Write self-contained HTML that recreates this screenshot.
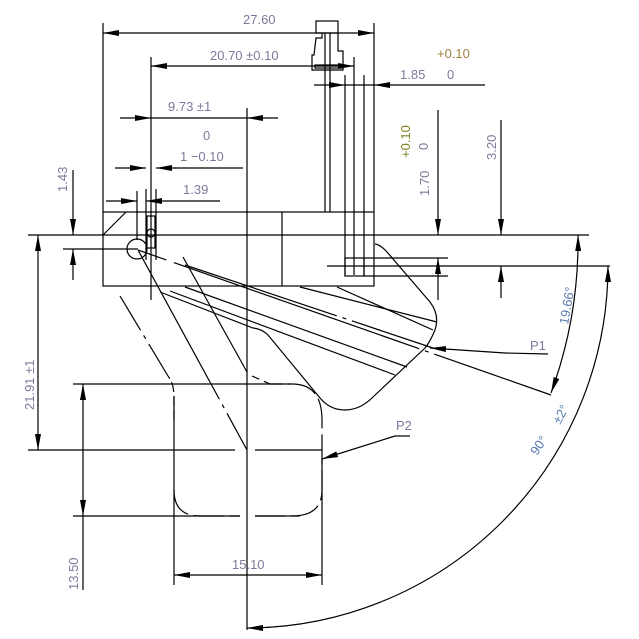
<!DOCTYPE html>
<html><head><meta charset="utf-8"><style>
html,body{margin:0;padding:0;background:#fff;}
svg{display:block;}
text{font-family:"Liberation Sans",sans-serif;font-size:13px;fill:#7a7a9c;}
</style></head><body>
<svg width="639" height="639" viewBox="0 0 639 639" xmlns="http://www.w3.org/2000/svg">
<defs>
<marker id="a" viewBox="0 0 16 6" refX="16" refY="3" markerWidth="16" markerHeight="6" markerUnits="userSpaceOnUse" orient="auto-start-reverse">
<path d="M0,0 L16,3 L0,6 Z" fill="#000"/></marker>
</defs>
<g stroke="#000" stroke-width="1.2" fill="none">
<rect x="103" y="212" width="271" height="74"/>
<line x1="282" y1="212" x2="282" y2="286"/>
<line x1="103" y1="235" x2="126" y2="212"/>
<line x1="28" y1="235" x2="589" y2="235"/>
<rect x="316" y="21" width="22" height="12"/>
<path d="M322,33 V38 H316 L314,55 H312 V70 H343 V51 H338 V33"/>
<rect x="315" y="65" width="28" height="3"/>
<line x1="325" y1="33" x2="325" y2="212"/><line x1="330" y1="33" x2="330" y2="212"/>
<line x1="345" y1="75" x2="345" y2="276"/><line x1="364" y1="75" x2="364" y2="276"/>
<line x1="354" y1="57" x2="354" y2="275"/>
<rect x="345" y="258" width="19" height="18"/>
<line x1="327" y1="266" x2="610" y2="266"/>
<line x1="364" y1="258" x2="448" y2="258"/><line x1="364" y1="276" x2="448" y2="276"/>
<rect x="147" y="216" width="8" height="32"/>
<circle cx="151" cy="233" r="4"/>
<line x1="146" y1="189" x2="146" y2="260"/><line x1="156" y1="189" x2="156" y2="260"/>
<circle cx="137" cy="249" r="10"/>
<line x1="63" y1="249" x2="138" y2="249"/>
<line x1="103" y1="23" x2="103" y2="212"/><line x1="374" y1="23" x2="374" y2="212"/>
<line x1="103" y1="33" x2="374" y2="33" marker-start="url(#a)" marker-end="url(#a)"/>
<line x1="151" y1="57" x2="151" y2="300"/>
<line x1="151" y1="66" x2="354" y2="66" marker-start="url(#a)" marker-end="url(#a)"/>
<line x1="314" y1="85" x2="345" y2="85" marker-end="url(#a)"/>
<line x1="374" y1="85" x2="485" y2="85" marker-start="url(#a)"/>
<line x1="345" y1="85" x2="374" y2="85"/>
<line x1="120" y1="118" x2="151" y2="118" marker-end="url(#a)"/>
<line x1="247" y1="118" x2="278" y2="118" marker-start="url(#a)"/>
<line x1="151" y1="118" x2="247" y2="118"/>
<line x1="115" y1="168" x2="146" y2="168" marker-end="url(#a)"/>
<line x1="156" y1="168" x2="243" y2="168" marker-start="url(#a)"/>
<line x1="137" y1="191" x2="137" y2="240"/>
<line x1="106" y1="201" x2="137" y2="201" marker-end="url(#a)"/>
<line x1="146" y1="201" x2="220" y2="201" marker-start="url(#a)"/>
<line x1="247" y1="108" x2="247" y2="630"/>
<line x1="438" y1="110" x2="438" y2="235" marker-end="url(#a)"/>
<line x1="438" y1="258" x2="438" y2="300" marker-start="url(#a)"/>
<line x1="501" y1="120" x2="501" y2="235" marker-end="url(#a)"/>
<line x1="501" y1="266" x2="501" y2="298" marker-start="url(#a)"/>
<line x1="73" y1="170" x2="73" y2="235" marker-end="url(#a)"/>
<line x1="73" y1="249" x2="73" y2="280" marker-start="url(#a)"/>
<line x1="38" y1="235" x2="38" y2="450" marker-start="url(#a)" marker-end="url(#a)"/>
<line x1="28" y1="450" x2="235" y2="450"/><line x1="255" y1="450" x2="322" y2="450"/>
<line x1="73" y1="384" x2="290" y2="384"/>
<line x1="73" y1="516" x2="240" y2="516"/><line x1="255" y1="516" x2="300" y2="516"/>
<line x1="83" y1="384" x2="83" y2="516" marker-start="url(#a)" marker-end="url(#a)"/>
<line x1="83" y1="516" x2="83" y2="590"/>
<line x1="174" y1="396" x2="174" y2="585"/>
<line x1="322" y1="458" x2="322" y2="585"/>
<line x1="174" y1="575" x2="322" y2="575" marker-start="url(#a)" marker-end="url(#a)"/>
<path d="M174,420 V396 Q174,384 168,376" stroke-dasharray="10,4"/>
<path d="M174,490 Q174,516 200,516 H240 M255,516 H292 Q322,516 322,490 V420 Q322,384 292,384 H270" stroke-dasharray="30,6"/>
<line x1="120" y1="296" x2="168" y2="376" stroke-dasharray="40,6,4,6"/>
<line x1="138" y1="250" x2="247" y2="450" stroke-dasharray="170,6,4,6"/>
<line x1="183" y1="257" x2="247" y2="372"/>
<line x1="252" y1="376" x2="270" y2="384" stroke-dasharray="8,5"/>
<path d="M375,244 Q381,245 387,252 L430,302 Q440,315 435,330 Q430,342 425,348 L373,397 Q360,410 345,410 Q330,410 320,398 L268,335 Q262,329 253,328 L160,292"/>
<line x1="138" y1="250" x2="551" y2="395" stroke-dasharray="30,8,260,6,4,6,400"/>
<line x1="185" y1="265" x2="433" y2="348" stroke-dasharray="160,6,4,6,300"/>
<line x1="185" y1="287" x2="407" y2="367"/>
<line x1="170" y1="291" x2="395" y2="375"/>
<line x1="300" y1="287" x2="437" y2="322"/>
<line x1="337" y1="287" x2="433" y2="330"/>
<path d="M578,235 A441,441 0 0 1 551,393" marker-start="url(#a)" marker-end="url(#a)"/>
<path d="M608,266 A362,362 0 0 1 247,628" marker-start="url(#a)" marker-end="url(#a)"/>
<line x1="505" y1="353" x2="430" y2="348" marker-end="url(#a)"/>
<line x1="505" y1="353" x2="548" y2="354"/>
<line x1="395" y1="436" x2="322" y2="459" marker-end="url(#a)"/>
<line x1="395" y1="436" x2="410" y2="436"/>
</g>
<g>
<text x="243" y="24">27.60</text>
<text x="210" y="60">20.70 ±0.10</text>
<text x="168" y="111">9.73 ±1</text>
<text x="203" y="140">0</text>
<text x="180" y="161">1 −0.10</text>
<text x="183" y="194">1.39</text>
<text x="437" y="58" style="fill:#a08040">+0.10</text>
<text x="400" y="79">1.85</text>
<text x="447" y="79">0</text>
<text transform="translate(410,158) rotate(-90)" style="fill:#808020">+0.10</text>
<text transform="translate(428,150) rotate(-90)">0</text>
<text transform="translate(429,196) rotate(-90)">1.70</text>
<text transform="translate(496,160) rotate(-90)">3.20</text>
<text transform="translate(67,192) rotate(-90)">1.43</text>
<text transform="translate(34,410) rotate(-90)">21.91 ±1</text>
<text transform="translate(78,590) rotate(-90)">13.50</text>
<text x="232" y="569">15.10</text>
<text x="530" y="350">P1</text>
<text x="396" y="430">P2</text>
<text transform="translate(568,325) rotate(-80)" style="fill:#5a7ab0">19.66°</text>
<text transform="translate(560,425) rotate(-62)" style="fill:#5a7ab0">±2°</text>
<text transform="translate(537,456) rotate(-56)" style="fill:#5a7ab0">90°</text>
</g>
</svg>
</body></html>
